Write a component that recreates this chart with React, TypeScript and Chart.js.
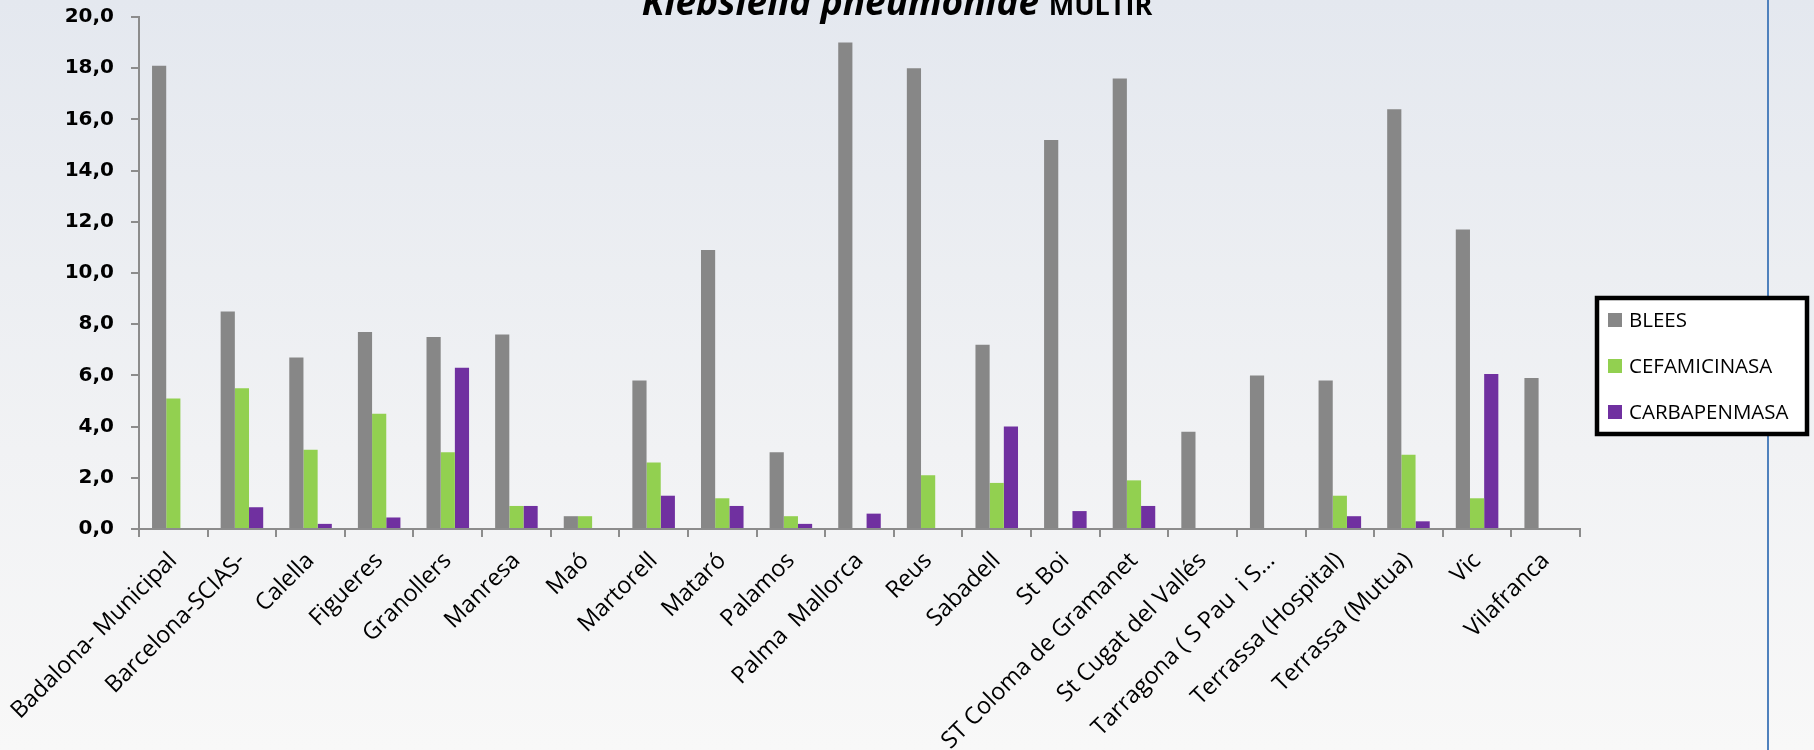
import React, { useEffect, useRef } from "react";
import { Chart, registerables } from "chart.js";

Chart.register(...registerables);

const categories = [
  "Badalona- Municipal",
  "Barcelona-SCIAS-",
  "Calella",
  "Figueres",
  "Granollers",
  "Manresa",
  "Maó",
  "Martorell",
  "Mataró",
  "Palamos",
  "Palma  Mallorca",
  "Reus",
  "Sabadell",
  "St Boi",
  "ST Coloma de Gramanet",
  "St Cugat del Vallés",
  "Tarragona ( S Pau  i S…",
  "Terrassa (Hospital)",
  "Terrassa (Mutua)",
  "Vic",
  "Vilafranca",
];

const blees = [18.1, 8.5, 6.7, 7.7, 7.5, 7.6, 0.5, 5.8, 10.9, 3.0, 19.0, 18.0, 7.2, 15.2, 17.6, 3.8, 6.0, 5.8, 16.4, 11.7, 5.9];
const cefamicinasa = [5.1, 5.5, 3.1, 4.5, 3.0, 0.9, 0.5, 2.6, 1.2, 0.5, 0, 2.1, 1.8, 0, 1.9, 0, 0, 1.3, 2.9, 1.2, 0];
const carbapenmasa = [0, 0.85, 0.2, 0.45, 6.3, 0.9, 0, 1.3, 0.9, 0.2, 0.6, 0, 4.0, 0.7, 0.9, 0, 0, 0.5, 0.3, 6.05, 0];

const seriesNames = ["BLEES", "CEFAMICINASA", "CARBAPENMASA"];
const seriesColors = ["#878787", "#92d050", "#7030a0"];

const titleItalic = "Klebsiella pneumoniae";
const titlePlain = "MULTIR";

const yMin = 0;
const yMax = 20;
const yStep = 2;

const titlePlugin = {
  id: "mixedTitle",
  afterDraw(chart: any) {
    const ctx = chart.ctx;
    ctx.save();
    const f1 = "italic bold 37px 'Open Sans'";
    const f2 = "bold 27px 'Open Sans'";
    ctx.font = f1;
    const w1 = ctx.measureText(titleItalic + " ").width;
    ctx.font = f2;
    const w2 = ctx.measureText(titlePlain).width;
    const cx = 897;
    const x = cx - (w1 + w2) / 2;
    const y = 15;
    ctx.fillStyle = "#000";
    ctx.textBaseline = "alphabetic";
    ctx.textAlign = "left";
    ctx.font = f1;
    ctx.fillText(titleItalic, x, y);
    ctx.font = f2;
    ctx.fillText(titlePlain, x + w1, y);
    ctx.restore();
  },
};

const legendPlugin = {
  id: "boxedLegend",
  afterDraw(chart: any) {
    const ctx = chart.ctx;
    ctx.save();
    ctx.strokeStyle = "#4f81bd";
    ctx.lineWidth = 2;
    ctx.beginPath();
    ctx.moveTo(1768, 0);
    ctx.lineTo(1768, chart.height);
    ctx.stroke();

    const bx = 1597;
    const by = 298;
    const bw = 210;
    const bh = 136;
    ctx.fillStyle = "#ffffff";
    ctx.fillRect(bx, by, bw, bh);
    ctx.lineWidth = 4.5;
    ctx.strokeStyle = "#000000";
    ctx.strokeRect(bx, by, bw, bh);

    ctx.font = "20.5px 'Open Sans'";
    ctx.textBaseline = "middle";
    ctx.textAlign = "left";
    chart.data.datasets.forEach((ds: any, i: number) => {
      const cy = 320 + i * 46;
      ctx.fillStyle = ds.backgroundColor;
      ctx.fillRect(1608, cy - 7, 14, 14);
      ctx.fillStyle = "#000";
      ctx.fillText(ds.label, 1629, cy + 1);
    });
    ctx.restore();
  },
};

export default function App() {
  const ref = useRef<HTMLCanvasElement | null>(null);

  useEffect(() => {
    if (!ref.current) return;
    const seriesData = [blees, cefamicinasa, carbapenmasa];
    const chart = new Chart(ref.current, {
      type: "bar",
      data: {
        labels: categories,
        datasets: seriesNames.map((name, i) => ({
          label: name,
          data: seriesData[i],
          backgroundColor: seriesColors[i],
          borderWidth: 0,
          categoryPercentage: 0.62,
          barPercentage: 1.0,
        })),
      },
      options: {
        responsive: false,
        animation: false,
        devicePixelRatio: 1,
        layout: { padding: { top: 17, right: 234, left: 0, bottom: 0 } },
        plugins: {
          legend: { display: false },
          title: { display: false },
          tooltip: { enabled: false },
        },
        scales: {
          x: {
            grid: {
              display: true,
              drawOnChartArea: false,
              drawTicks: true,
              tickLength: 8,
              color: "#8c8c8c",
              lineWidth: 2,
            },
            border: { display: true, color: "#8c8c8c", width: 2 },
            ticks: {
              minRotation: 45,
              maxRotation: 45,
              autoSkip: false,
              padding: 10,
              color: "#000",
              font: { family: "'Open Sans'", size: 23.5 },
            },
            afterFit(scale: any) {
              scale.height = 221;
              scale.paddingLeft = 0;
              scale.paddingRight = 0;
            },
          },
          y: {
            min: yMin,
            max: yMax,
            grid: {
              display: true,
              drawOnChartArea: false,
              drawTicks: true,
              tickLength: 8,
              color: "#8c8c8c",
              lineWidth: 2,
            },
            border: { display: true, color: "#8c8c8c", width: 2 },
            ticks: {
              stepSize: yStep,
              padding: 17,
              color: "#000",
              font: { family: "'DejaVu Sans'", size: 20, weight: "bold" },
              callback: (v: any) => Number(v).toFixed(1).replace(".", ","),
            },
            afterFit(scale: any) {
              scale.width = 139;
              scale.paddingTop = 0;
              scale.paddingBottom = 0;
            },
          },
        },
      },
      plugins: [titlePlugin, legendPlugin],
    });
    return () => chart.destroy();
  }, []);

  return (
    <div
      style={{
        position: "fixed",
        left: 0,
        top: 0,
        width: 1814,
        height: 750,
        background: "linear-gradient(to bottom, #e4e8ef 0%, #f1f2f4 60%, #f8f8f8 100%)",
        overflow: "hidden",
      }}
    >
      <canvas ref={ref} width={1814} height={750} style={{ display: "block" }} />
    </div>
  );
}
